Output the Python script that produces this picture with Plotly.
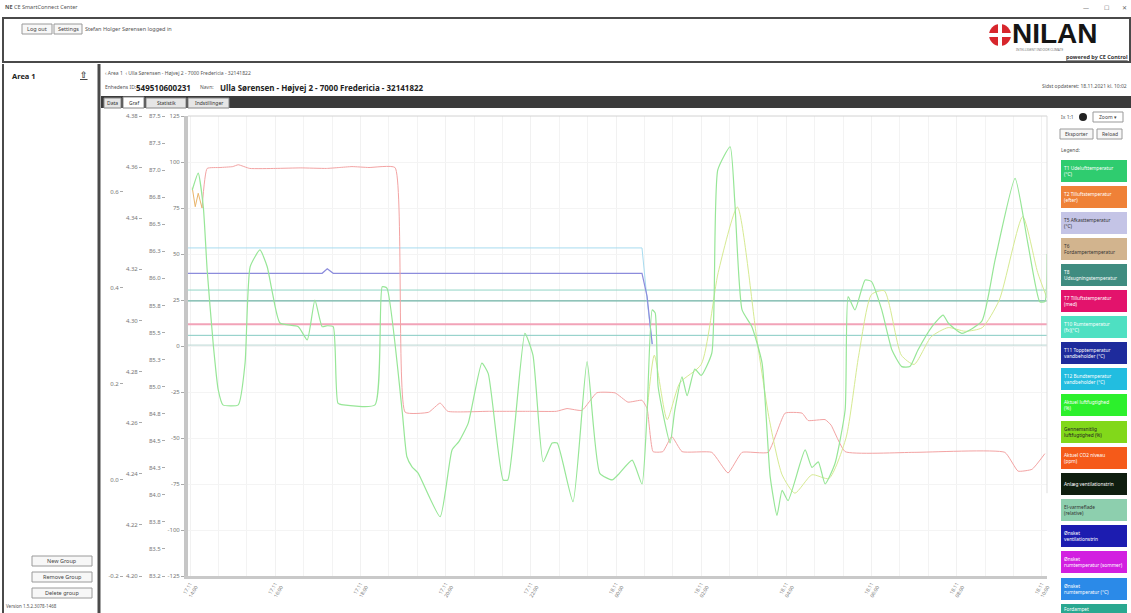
import plotly.graph_objects as go

# ---------------- data (hours from 17.11 14:00, main axis units) ----------------
tick_hours = [0, 2, 4, 6, 8, 10, 12, 14, 16, 18, 20]
tick_labels = ["17.11<br>14:00", "17.11<br>16:00", "17.11<br>18:00", "17.11<br>20:00",
               "17.11<br>22:00", "18.11<br>00:00", "18.11<br>02:00", "18.11<br>04:00",
               "18.11<br>06:00", "18.11<br>08:00", "18.11<br>10:00"]
x_span = [-0.05, 20.12]

main_vals = [125, 100, 75, 50, 25, 0, -25, -50, -75, -100, -125]
main_text = ["125", "100", "75", "50", "25", "0", "-25", "-50", "-75", "-100", "-125"]

ax3_vals = [87.5, 87.25, 87.0, 86.75, 86.5, 86.25, 86.0, 85.75, 85.5, 85.25, 85.0,
            84.75, 84.5, 84.25, 84.0, 83.75, 83.5, 83.25]
ax3_text = ["87.5", "87.3", "87.0", "86.8", "86.5", "86.3", "86.0", "85.8", "85.5", "85.3",
            "85.0", "84.8", "84.5", "84.3", "84.0", "83.8", "83.5", "83.2"]
ax3_range = [83.25, 87.5]

ax2_vals = [4.38, 4.36, 4.34, 4.32, 4.30, 4.28, 4.26, 4.24, 4.22, 4.20]
ax2_text = ["4.38", "4.36", "4.34", "4.32", "4.30", "4.28", "4.26", "4.24", "4.22", "4.20"]
ax2_range = [4.20, 4.38]

ax1_vals = [0.6, 0.4, 0.2, 0.0, -0.2]
ax1_text = ["0.6", "0.4", "0.2", "0.0", "-0.2"]
ax1_range = [-0.2, 0.758]

humid_x = [0.05, 0.19, 0.31, 0.40, 0.54, 0.66, 0.77, 1.13, 1.29, 1.41,
           1.64, 1.81, 1.92, 2.11, 2.54, 2.75, 2.93, 3.10, 3.22, 3.36,
           3.47, 3.60, 4.34, 4.51, 4.62, 4.98, 5.09, 5.21, 5.35, 5.87,
           6.15, 6.31, 6.53, 6.85, 7.00, 7.35, 7.46, 7.86, 8.05, 8.29,
           8.50, 8.62, 8.99, 9.32, 9.62, 9.91, 10.05, 10.38, 10.61, 10.73,
           10.85, 10.92, 10.99, 11.27, 11.38, 11.55, 11.67, 11.85, 12.00, 12.25,
           12.39, 12.68, 12.79, 12.96, 13.19, 13.43, 13.62, 13.78, 13.90, 14.04,
           14.44, 14.60, 14.75, 14.91, 15.14, 15.38, 15.45, 15.61, 15.85, 16.00,
           16.24, 16.48, 16.71, 16.90, 17.09, 17.42, 17.68, 17.80, 18.12, 18.59,
           18.90, 19.37, 19.67, 19.95, 20.07, 20.12]
humid_y = [84.8, 94, 75.5, 41.3, 1.6, -23.9, -32, -32, -9.3, 43.1,
           52.2, 43.1, 30.4, 12.5, 10.5, 3.3, 25, 10.5, 11, 10.5,
           -31, -32, -32, 32.2, 31.5, -35.7, -60.2, -65.7, -69, -92.8,
           -56.5, -52, -41.9, -9.3, -15, -72.8, -72.8, 6.9, -5, -62.9,
           -52.7, -52.7, -84.6, -8.5, -69.2, -72.8, -70, -62, -75, -35.7,
           19.6, 18, -22.3, -52.7, -35, -16.8, -27, -12.5, -16, -3.8,
           95.7, 108.3, 78, 19.6, 10.5, -9.3, -71, -92, -78.5, -84,
           -56.5, -66, -63, -75, -64, -34.8, 26.8, 19.6, 35.9, 35,
           19.6, -2.2, -11.2, -11.2, -2.2, 10.5, 16.8, 12.5, 6.9, 13.5,
           46.7, 91.1, 55.8, 24.1, 24.1, 50]

avg_x = [10.73, 10.90, 11.20, 11.50, 12.00, 12.40, 12.85, 13.30, 13.60, 13.90,
         14.20, 14.60, 15.00, 15.40, 15.70, 16.00, 16.30, 16.70, 17.00, 17.40,
         17.80, 18.20, 18.60, 19.00, 19.55, 19.90, 20.12]
avg_y = [-35, -5, -40, -20, -10, 40, 75.5, 5, -40, -70,
         -80, -70, -72, -50, -5, 28, 30, -5, -10, 5,
         10, 8, 10, 25, 70.3, 40, 26]

co2_x = [0.28, 0.40, 0.70, 1.00, 1.13, 1.40, 2.00, 2.60, 3.20, 3.50,
         3.80, 4.20, 4.81, 5.05, 5.60, 5.87, 6.05, 7.00, 8.00, 8.60,
         8.85, 9.20, 9.55, 9.98, 10.28, 10.61, 10.73, 10.87, 11.10, 11.31,
         11.55, 12.25, 12.63, 12.96, 13.57, 13.97, 14.37, 14.51, 14.91, 15.05,
         15.38, 17.00, 19.13, 19.44, 19.77, 20.07]
co2_y = [75, 96.5, 97, 97.5, 98.5, 96.5, 96.5, 96.8, 96.5, 97,
         97.5, 97, 97, -36, -36, -31, -35.5, -35.5, -35.5, -35.5,
         -34, -35, -25.4, -25.5, -30.5, -29.5, -34, -57.4, -57.4, -49.2,
         -57.4, -57.8, -69, -57.8, -57.8, -36.5, -36.5, -40.5, -40, -43,
         -57.4, -57.8, -57.8, -68, -67, -58.5]

t2_x = [0.05, 0.12, 0.19, 0.28]
t2_y = [86, 75.7, 83, 75]

t12_x = [-0.05, 10.61, 10.73, 10.85]
t12_y = [53.3, 53.3, 25, 1]

t11_x = [-0.05, 3.10, 3.22, 3.36, 10.61, 10.73, 10.85]
t11_y = [39.5, 39.5, 42, 39.5, 39.5, 27, 1]

flat_names = ["T10", "T8", "T7", "T6", "T5"]
flat_vals = [30.4, 24.5, 11.8, 5.8, 0.5]
flat_colors = ["#93d6c6", "#6fb3a6", "#f2a3b8", "#85cbc2", "#b9d6d2"]
flat_widths = [1, 1.2, 2, 1, 1]

legend_labels = [
    "T1 Udelufttemperatur<br>(°C)", "T2 Tilluftstemperatur<br>(efter)",
    "T5 Afkasttemperatur<br>(°C)", "T6<br>Fordampertemperatur",
    "T8<br>Udsugningstemperatur", "T7 Tilluftstemperatur<br>(med)",
    "T10 Rumtemperatur<br>(fx)(°C)", "T11 Topptemperatur<br>vandbeholder (°C)",
    "T12 Bundtemperatur<br>vandbeholder (°C)", "Aktuel luftfugtighed<br>(%)",
    "Gennemsnitlig<br>luftfugtighed (%)", "Aktuel CO2 niveau<br>(ppm)",
    "Anlæg ventilationstrin", "El-varmeflade<br>(relative)",
    "Ønsket<br>ventilationstrin", "Ønsket<br>rumtemperatur (sommer)",
    "Ønsket<br>rumtemperatur (°C)", "Fordampet<br>temperatur"]
legend_colors = ["#2fcc6f", "#ef8137", "#c4c4e6", "#d2b48e", "#3f8c80", "#e3136c",
                 "#4ee0c2", "#1e2b9c", "#22bde0", "#2cf02c", "#82d81a", "#f55a19",
                 "#0f1e0f", "#8dcfae", "#1c1cb0", "#d21fe0", "#2b8ae8", "#2aa890"]
legend_text_colors = ["white", "white", "#333", "#333", "white", "white", "white", "white",
                      "white", "white", "#222", "white", "white", "#333", "white", "white",
                      "white", "white"]

# ---------------- figure ----------------
W, H = 1131, 613
FONT = "Noto Sans, DejaVu Sans, sans-serif"


def px(x):
    return x / W


def py(y):
    return 1 - y / H


fig = go.Figure()

for name, v, c, w in zip(flat_names, flat_vals, flat_colors, flat_widths):
    fig.add_trace(go.Scatter(x=x_span, y=[v, v], mode="lines", name=name,
                             line=dict(color=c, width=w), hoverinfo="skip"))
fig.add_trace(go.Scatter(x=t12_x, y=t12_y, mode="lines", name="T12",
                         line=dict(color="#a7dbef", width=1), hoverinfo="skip"))
fig.add_trace(go.Scatter(x=t11_x, y=t11_y, mode="lines", name="T11",
                         line=dict(color="#8c8cdc", width=1.2), hoverinfo="skip"))
fig.add_trace(go.Scatter(x=co2_x, y=co2_y, mode="lines", name="CO2",
                         line=dict(color="#f3a3a3", width=1, shape="spline", smoothing=0.4),
                         hoverinfo="skip"))
fig.add_trace(go.Scatter(x=t2_x, y=t2_y, mode="lines", name="T2",
                         line=dict(color="#e9b46a", width=1), hoverinfo="skip"))
fig.add_trace(go.Scatter(x=avg_x, y=avg_y, mode="lines", name="avg",
                         line=dict(color="#d6ea92", width=1, shape="spline", smoothing=0.6),
                         hoverinfo="skip"))
fig.add_trace(go.Scatter(x=humid_x, y=humid_y, mode="lines", name="humid",
                         line=dict(color="#97e697", width=1.2, shape="spline", smoothing=0.5),
                         hoverinfo="skip"))

# invisible carriers for the extra value axes
for ax, rng in (("y2", ax3_range), ("y3", ax2_range), ("y4", ax1_range)):
    fig.add_trace(go.Scatter(x=[x_span[0], x_span[0]], y=rng, yaxis=ax, mode="lines",
                             opacity=0, line=dict(width=0, color="#777"), hoverinfo="skip"))

tickfont = dict(size=6, color="#777", family=FONT)
dom_y = [py(576), py(116)]


def extra_axis(pos, rng, vals, txt):
    return dict(overlaying="y", anchor="free", position=px(pos), side="left",
                range=rng, tickmode="array", tickvals=vals, ticktext=txt, color="#777",
                tickfont=tickfont, ticks="outside", ticklen=3, tickcolor="#aaa",
                showline=False, showgrid=False, zeroline=False, automargin=False,
                fixedrange=True)


fig.update_layout(
    template="none",
    width=W, height=H,
    margin=dict(l=0, r=0, t=0, b=0, pad=0),
    paper_bgcolor="white", plot_bgcolor="white",
    showlegend=False,
    font=dict(family=FONT),
    xaxis=dict(domain=[px(188), px(1047)], range=x_span, tickmode="array",
               tickvals=tick_hours, ticktext=tick_labels, tickangle=-60,
               tickfont=dict(size=5, color="#777", family=FONT),
               showline=True, linecolor="#c9c9c9", linewidth=3,
               showgrid=True, gridcolor="#f1f1f1", zeroline=False,
               ticks="", automargin=False, fixedrange=True,
               minor=dict(tickmode="linear", tick0=0, dtick=2 / 3,
                          showgrid=True, gridcolor="#f3f3f3", ticks="")),
    yaxis=dict(domain=dom_y, range=[-125, 125], tickmode="array",
               tickvals=main_vals, ticktext=main_text, tickfont=tickfont, color="#777",
               ticks="outside", ticklen=3, tickcolor="#aaa",
               showline=True, linecolor="#c6c6c6", linewidth=4,
               showgrid=True, gridcolor="#f4f4f4", zeroline=False,
               automargin=False, fixedrange=True),
    yaxis2=extra_axis(165, ax3_range, ax3_vals, ax3_text),
    yaxis3=extra_axis(142, ax2_range, ax2_vals, ax2_text),
    yaxis4=extra_axis(123, ax1_range, ax1_vals, ax1_text),
)

shapes = []
annotations = []


def rect(x0, y0, x1, y1, fill="rgba(0,0,0,0)", line="rgba(0,0,0,0)", lw=1):
    shapes.append(dict(type="rect", xref="paper", yref="paper", x0=px(x0), x1=px(x1),
                       y0=py(y1), y1=py(y0), fillcolor=fill,
                       line=dict(color=line, width=lw), layer="above"))


def seg(x0, y0, x1, y1, color="#555", lw=1):
    shapes.append(dict(type="line", xref="paper", yref="paper", x0=px(x0), x1=px(x1),
                       y0=py(y0), y1=py(y1), line=dict(color=color, width=lw)))


def text(x, y, s, size=6, color="#444", xanchor="left", family=FONT):
    annotations.append(dict(xref="paper", yref="paper", x=px(x), y=py(y), text=s,
                            showarrow=False, xanchor=xanchor, yanchor="middle",
                            align="left", borderpad=0,
                            font=dict(size=size, color=color, family=family)))


def button(x0, y0, x1, y1, label, size=5.5):
    rect(x0, y0, x1, y1, fill="#f7f7f7", line="#9a9a9a", lw=1)
    text((x0 + x1) / 2, (y0 + y1) / 2, label, size=size, color="#444", xanchor="center")


# plot frame (top / right thin lines)
shapes.append(dict(type="line", xref="x domain", yref="y domain", x0=0, x1=1, y0=1, y1=1,
                   line=dict(color="#d2d2d2", width=1)))
shapes.append(dict(type="line", xref="x domain", yref="y domain", x0=1, x1=1, y0=0.18, y1=1,
                   line=dict(color="#dddddd", width=1)))

# title bar
text(4, 7, "<b>NE</b> CE SmartConnect Center", size=5.5, color="#555")
text(1086, 8, "—", size=6, color="#666", xanchor="center")
text(1106, 8, "☐", size=6, color="#666", xanchor="center")
text(1124, 8, "✕", size=6, color="#666", xanchor="center")

# header panel
rect(3, 18, 1130, 62, fill="white", line="#4a4a4a", lw=2)
button(22, 24, 52, 34, "Log out")
button(54, 24, 82, 34, "Settings")
text(84, 29, "Stefan Holger Sørensen logged in", size=5.5, color="#555")

# NILAN logo
shapes.append(dict(type="circle", xref="paper", yref="paper", x0=px(989), x1=px(1011),
                   y0=py(46), y1=py(24), fillcolor="#d7262c", line=dict(width=0)))
rect(998, 23, 1002, 47, fill="white")
rect(988, 33, 1012, 37, fill="white")
text(1011, 33, "<b>NILAN</b>", size=28, color="#151515", family="Liberation Sans, Arial")
text(1015, 50, "INTELLIGENT INDOOR CLIMATE", size=3.2, color="#777")
text(1129, 57, "<b><u>powered by CE Control</u></b>", size=5.5, color="#333", xanchor="right")

# left sidebar
seg(3, 64, 3, 613, "#4a4a4a", 2)
seg(99, 64, 99, 613, "#4a4a4a", 3)
text(11, 76, "<b>Area 1</b>", size=7.5, color="#222")
text(84, 75, "<b><u>⇧</u></b>", size=9, color="#333", xanchor="center")
button(32, 556, 92, 566, "New Group")
button(32, 572, 92, 582, "Remove Group")
button(32, 588, 92, 598, "Delete group")
text(5, 606, "Version 1.5.2.3078-1468", size=4.5, color="#555")

# main header texts
text(104, 73, "‹ Area 1  ‹ Ulla Sørensen - Højvej 2 - 7000 Fredericia - 32141822",
     size=5, color="#555")
text(104, 87, "Enhedens ID:", size=5, color="#555")
text(135, 87, "<b>549510600231</b>", size=8, color="#222")
text(199, 87, "Navn:", size=5, color="#555")
text(219, 87, "<b>Ulla Sørensen - Højvej 2 - 7000 Fredericia - 32141822</b>", size=8,
     color="#222")
text(1128, 86, "Sidst opdateret: 18.11.2021 kl. 10:02", size=5, color="#555",
     xanchor="right")

# tab bar
rect(101, 96, 1131, 108, fill="#3b3b3b")
for x0, x1, lab, sel in ((104, 121, "Data", False), (123, 144, "Graf", True),
                         (146, 186, "Statistik", False), (188, 229, "Indstillinger", False)):
    rect(x0, 97 if sel else 98, x1, 108, fill="white" if sel else "#e6e6e6", line="#888", lw=1)
    text((x0 + x1) / 2, 103, lab, size=5, color="#333", xanchor="center")

# right control panel
text(1060, 117, "Ix 1:1", size=5, color="#555")
shapes.append(dict(type="circle", xref="paper", yref="paper", x0=px(1079), x1=px(1087),
                   y0=py(121), y1=py(113), fillcolor="#222", line=dict(width=0)))
rect(1093, 112, 1123, 122, fill="white", line="#999")
text(1108, 117, "Zoom ▾", size=5, color="#444", xanchor="center")
button(1060, 129, 1093, 139, "Eksporter", size=5)
button(1097, 129, 1122, 139, "Reload", size=5)
text(1060, 150, "Legend:", size=5, color="#555")

legend_tops = [160, 186, 212, 238, 264, 290, 316, 342, 368, 394, 421, 447, 473, 499,
               525, 551, 578, 604]
for top, lab, col, tcol in zip(legend_tops, legend_labels, legend_colors, legend_text_colors):
    rect(1061, top, 1127, top + 22, fill=col)
    text(1063, top + 11 if top < 600 else top + 5,
         lab if top < 600 else lab.split("<br>")[0], size=4.8, color=tcol)

fig.update_layout(shapes=shapes, annotations=annotations)

fig.write_html("out.html", config={"displayModeBar": False},
               post_script="document.body.style.margin='0';document.body.style.overflow='hidden';")
